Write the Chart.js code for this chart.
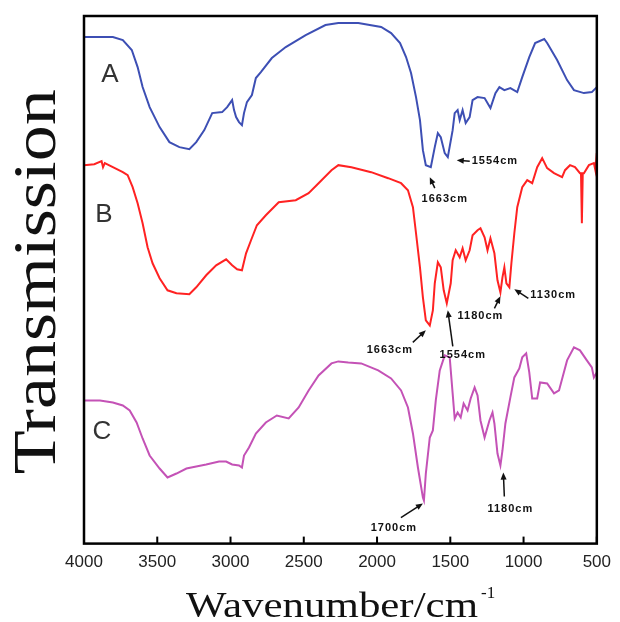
<!DOCTYPE html>
<html>
<head>
<meta charset="utf-8">
<script src="https://cdn.jsdelivr.net/npm/chart.js@4.4.1/dist/chart.umd.min.js"></script>
<style>
    html, body { margin: 0; padding: 0; background: #fff; }
    #wrap { width: 620px; height: 622px; position: relative; }
</style>
</head>
<body>
<div id="wrap"><canvas id="ftir"></canvas></div>
<script>
// wavenumbers (cm-1) and transmission readings (arbitrary units) for each spectrum
const wnA = [4000,3803,3735,3674,3634,3600,3552,3484,3417,3349,3281,3234,3179,3125,3057,3023,2989,2976,2962,2942,2922,2908,2888,2854,2827,2793,2718,2623,2487,2352,2264,2128,1972,1904,1843,1802,1768,1734,1707,1687,1667,1633,1606,1585,1565,1538,1517,1484,1470,1450,1436,1416,1395,1368,1348,1314,1266,1226,1192,1165,1131,1090,1043,1009,961,921,859,839,771,703,656,588,534,500];
const tA = [101.2,101.2,100.6,98.6,95.2,91.2,87.2,83.2,80.2,79.2,78.8,80.2,82.6,86,86.2,87.2,88.6,86.6,85.2,84.2,83.6,86,88.2,89.6,93,94.2,97,99.2,101.6,103.6,104,104,103.2,102,100,97.2,94,89.2,84.6,78.6,75.6,75.2,79.2,82,81.2,78,77.2,82.6,86,86.6,84.6,86.6,84,85.2,88.6,89.2,89,87,90,91.2,90.6,91,90.2,93.2,97.2,100,100.8,100,96.6,92.6,90.6,90,90.2,91.2];

const wnB = [4000,3930,3880,3870,3858,3803,3735,3702,3668,3634,3600,3566,3532,3484,3430,3369,3281,3234,3166,3098,3030,2989,2955,2922,2894,2860,2820,2759,2671,2555,2467,2399,2311,2264,2175,2040,1924,1836,1789,1755,1734,1707,1687,1667,1640,1619,1606,1585,1565,1545,1524,1497,1484,1463,1436,1416,1395,1368,1348,1314,1294,1266,1246,1226,1199,1178,1158,1144,1131,1117,1097,1083,1063,1043,1009,975,941,907,873,839,792,737,717,683,649,615,608,602,596,588,554,520,510,500];
const tB = [75.6,75.8,76.4,75.2,76,75.2,74.2,73.6,71.2,68,64,59.2,56,53,50.6,50,49.8,51.2,53.6,55.6,56.8,55.6,54.8,54.6,58,60.6,63.6,65.6,68.2,68.6,70,72,74.6,75.6,75.2,74.2,73,72,70.6,67.2,62,55.2,49.2,44.6,43.6,46.6,52,56.2,55.2,50.6,48,52,56.6,58.6,57.2,59,56.6,58.6,61.6,62.6,63,61.2,58.6,61,58,52.6,50.2,53.2,55.2,52,51.2,56,62,67.2,71.2,72.6,72,75.2,77,75,74,73.2,74.6,75.6,75.2,74,74,64,74,74,75.6,76,74.6,78];

const wnC = [4000,3891,3803,3735,3688,3641,3600,3552,3484,3430,3369,3301,3234,3166,3078,3030,2989,2942,2922,2908,2874,2827,2759,2684,2603,2535,2467,2399,2311,2264,2196,2108,1992,1904,1836,1789,1755,1721,1687,1680,1667,1640,1619,1599,1572,1538,1504,1484,1470,1450,1429,1409,1382,1361,1334,1314,1294,1266,1233,1212,1199,1178,1158,1144,1124,1090,1063,1029,1009,982,961,941,907,887,839,792,758,703,656,615,568,534,520,500];
const tC = [28.6,28.6,28.2,27.6,26.6,24.2,21,17.6,15,13.2,14,15,15.4,15.8,16.4,16.4,15.8,15.6,15.2,17.6,19.2,22,24.2,25.6,25,27.2,30.6,33.6,36,36.4,36.2,36,34.6,33,30.6,27.2,22,15.2,9.2,8.6,14,21.2,22.6,28.6,34.6,37.6,37.2,30,25,26.2,25.2,28,26.6,29,31.2,29.6,24.6,21.2,24.6,26.2,24,18,15.6,18.6,24,29.2,33.2,35,37.2,38,34.2,29,29,32.2,32,30,30.6,36.6,39.2,38.6,36.6,35.2,33.2,34.2];

const seriesNames = ['A', 'B', 'C'];
const xTicks = [4000, 3500, 3000, 2500, 2000, 1500, 1000, 500];

// peak labels: text and the point (wavenumber, transmission) the arrow points at
const peakText = ['1554cm', '1663cm', '1663cm', '1554cm', '1180cm', '1130cm', '1700cm', '1180cm'];
const peakWn = [1456, 1640, 1667, 1517, 1158, 1063, 1687, 1138];
const peakT = [76.6, 73.2, 42.6, 46.6, 49.4, 50.8, 8, 14.2];

// where tail and text sit relative to the arrow tip (px)
const noteLayout = [
    { tail: [13, 1], label: [15, 1], align: 'left' },
    { tail: [5, 11], label: [15, 22], align: 'center' },
    { tail: [-13, 12], label: [-36, 20], align: 'center' },
    { tail: [5, 36], label: [15, 45], align: 'center' },
    { tail: [-6, 12], label: [-20, 20], align: 'center' },
    { tail: [14, 9], label: [16, 6], align: 'left' },
    { tail: [-22, 14], label: [-29, 24], align: 'center' },
    { tail: [1, 24], label: [7, 36], align: 'center' }
];

const toPoints = (xs, ys) => xs.map((v, i) => ({ x: v, y: ys[i] }));

const decor = {
    id: 'decor',
    afterDraw(chart) {
        const { ctx, chartArea: a, scales: { x, y } } = chart;
        ctx.save();

        // frame + inward ticks
        ctx.strokeStyle = '#000';
        ctx.lineWidth = 2.5;
        ctx.strokeRect(a.left, a.top, a.right - a.left, a.bottom - a.top);
        ctx.lineWidth = 2;
        xTicks.forEach(t => {
            const px = x.getPixelForValue(t);
            ctx.beginPath();
            ctx.moveTo(px, a.bottom);
            ctx.lineTo(px, a.bottom - 7);
            ctx.stroke();
        });

        // series letters
        ctx.fillStyle = '#333';
        ctx.font = '26px "Liberation Sans", Arial, sans-serif';
        ctx.textAlign = 'center';
        ctx.textBaseline = 'middle';
        const letterPos = [[26, 59], [20, 199], [18, 416]];
        seriesNames.forEach((s, i) => {
            ctx.fillText(s, a.left + letterPos[i][0], a.top + letterPos[i][1]);
        });

        // peak arrows and labels
        ctx.fillStyle = '#111';
        ctx.strokeStyle = '#111';
        ctx.lineWidth = 1.5;
        ctx.font = 'bold 11px "Liberation Sans", Arial, sans-serif';
        ctx.letterSpacing = '1px';
        peakText.forEach((txt, i) => {
            const lay = noteLayout[i];
            const tx = x.getPixelForValue(peakWn[i]);
            const ty = y.getPixelForValue(peakT[i]);
            const sx = tx + lay.tail[0], sy = ty + lay.tail[1];
            const ang = Math.atan2(ty - sy, tx - sx);
            ctx.beginPath();
            ctx.moveTo(sx, sy);
            ctx.lineTo(tx - Math.cos(ang) * 4, ty - Math.sin(ang) * 4);
            ctx.stroke();
            ctx.beginPath();
            ctx.moveTo(tx, ty);
            ctx.lineTo(tx - 7 * Math.cos(ang) + 3 * Math.sin(ang), ty - 7 * Math.sin(ang) - 3 * Math.cos(ang));
            ctx.lineTo(tx - 7 * Math.cos(ang) - 3 * Math.sin(ang), ty - 7 * Math.sin(ang) + 3 * Math.cos(ang));
            ctx.closePath();
            ctx.fill();
            ctx.textAlign = lay.align;
            ctx.textBaseline = 'middle';
            ctx.fillText(txt, tx + lay.label[0], ty + lay.label[1]);
        });
        ctx.letterSpacing = '0px';

        // y title (stretched serif, like the original)
        ctx.fillStyle = '#111';
        ctx.save();
        ctx.translate(35, (a.top + a.bottom) / 2 + 2);
        ctx.rotate(-Math.PI / 2);
        ctx.font = '62px "Liberation Serif", "Times New Roman", serif';
        const yt = 'Transmission';
        const yw = ctx.measureText(yt).width;
        ctx.scale(385 / yw, 1);
        ctx.textAlign = 'center';
        ctx.textBaseline = 'alphabetic';
        ctx.fillText(yt, 0, 62 * 0.33);
        ctx.restore();

        // x title
        ctx.save();
        ctx.font = '36px "Liberation Serif", "Times New Roman", serif';
        const xt = 'Wavenumber/cm';
        const xw = ctx.measureText(xt).width;
        ctx.translate(186, 617);
        ctx.scale(292 / xw, 1);
        ctx.textAlign = 'left';
        ctx.textBaseline = 'alphabetic';
        ctx.fillText(xt, 0, 0);
        ctx.restore();
        ctx.font = '17px "Liberation Serif", "Times New Roman", serif';
        ctx.textAlign = 'left';
        ctx.textBaseline = 'alphabetic';
        ctx.fillText('-1', 481, 598);

        ctx.restore();
    }
};

const ctx = document.getElementById('ftir');
new Chart(ctx, {
    type: 'line',
    data: {
        datasets: [
            { label: seriesNames[0], data: toPoints(wnA, tA), borderColor: '#3d4fb4' },
            { label: seriesNames[1], data: toPoints(wnB, tB), borderColor: '#ff2222' },
            { label: seriesNames[2], data: toPoints(wnC, tC), borderColor: '#c452b6' }
        ]
    },
    options: {
        responsive: true,
        maintainAspectRatio: false,
        devicePixelRatio: 1,
        animation: false,
        layout: { padding: { left: 84, right: 17, top: 16, bottom: 40 } },
        elements: {
            line: { borderWidth: 2, tension: 0 },
            point: { radius: 0 }
        },
        plugins: {
            legend: { display: false },
            tooltip: { enabled: false }
        },
        scales: {
            x: {
                type: 'linear',
                reverse: true,
                min: 500,
                max: 4000,
                afterBuildTicks: (scale) => { scale.ticks = xTicks.map(v => ({ value: v })); },
                grid: { display: false, drawTicks: false },
                border: { display: false },
                ticks: {
                    padding: 9,
                    color: '#222',
                    font: { family: '"Liberation Sans", Arial, sans-serif', size: 17 },
                    maxRotation: 0,
                    autoSkip: false,
                    callback: (v) => String(v)
                }
            },
            y: {
                display: false,
                min: 0,
                max: 105.4
            }
        }
    },
    plugins: [decor]
});
</script>
</body>
</html>
